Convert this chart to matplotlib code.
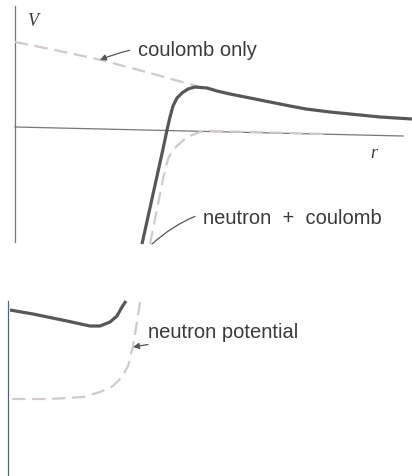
import matplotlib.pyplot as plt

# sketch coordinates: r to the right, V upwards
# upper panel: coulomb only (dashed)
coul_r = [0, 35, 82, 135, 185]
coul_V = [85, 78, 68, 54, 40]

# upper panel: neutron + coulomb (solid)
nc_r = [127, 148, 152, 155, 158, 162, 167, 173, 180, 192, 202,
        215, 225, 245, 275, 291, 315, 335, 365, 397]
nc_V = [-117, -22, -3, 10, 21, 29, 34, 38, 40, 39, 36,
        33, 31, 27, 21, 18, 15, 13, 10, 8]

# upper panel: neutron potential (dashed)
neu_r = [135, 142, 148, 153, 157, 162, 172, 185, 195, 235, 311]
neu_V = [-117, -82, -52, -32, -24, -19, -10, -5, -4, -5, -7]

# lower panel (below the break)
nc_low_r = [-5, 18, 52, 75, 85, 95, 102, 107, 111]
nc_low_V = [-183, -187, -194, -199, -199, -195, -189, -180, -174]
neu_low_r = [125, 122, 118, 113, 107, 98, 85, 68, 35, -7]
neu_low_V = [-175, -195, -219, -239, -250, -259, -265, -270, -272, -272]

SOLID = '#575757'
DASH = '#d2c9cd'
AXIS = '#777777'
TXT = '#3a3a3a'

fig = plt.figure(figsize=(4.12, 4.77), dpi=100)
ax = fig.add_axes([0, 0, 1, 1])
ax.set_xlim(-15, 397)
ax.set_ylim(-349, 128)
ax.axis('off')

# axes drawn by hand (scanned figure, slightly tilted r-axis)
ax.plot([0, 0], [121, -115], color=AXIS, lw=0.9)
ax.plot([0, 388], [0, -9], color=AXIS, lw=0.9)
ax.plot([-7, -7], [-174, -349], color='#556070', lw=0.9)

dash_kw = dict(color=DASH, lw=1.6, dashes=(6, 3))
solid_kw = dict(color=SOLID, lw=2.3, solid_capstyle='butt', solid_joinstyle='round')
ax.plot(coul_r, coul_V, **dash_kw)
ax.plot(neu_r, neu_V, **dash_kw)
ax.plot(nc_r, nc_V, **solid_kw)
ax.plot(neu_low_r, neu_low_V, **dash_kw)
ax.plot(nc_low_r, nc_low_V, **solid_kw)

ax.text(12, 106, 'V', fontsize=13, style='italic', family='Liberation Serif',
        color=TXT, va='center', ha='left')
ax.text(355, -25, 'r', fontsize=13, style='italic', family='Liberation Serif',
        color=TXT, va='center', ha='left')

ax.annotate('coulomb only', xy=(85, 67), xytext=(123, 78),
            fontsize=14.5, family='Liberation Sans', color=TXT, va='center',
            arrowprops=dict(arrowstyle='-|>', color='#555555', lw=0.9,
                            mutation_scale=9, shrinkA=4, shrinkB=0,
                            connectionstyle='arc3,rad=0.15'))
ax.annotate('neutron  +  coulomb', xy=(137, -117), xytext=(188, -90),
            fontsize=14.5, family='Liberation Sans', color=TXT, va='center',
            arrowprops=dict(arrowstyle='-', color='#555555', lw=0.9,
                            shrinkA=4, shrinkB=0,
                            connectionstyle='arc3,rad=0.3'))
ax.annotate('neutron potential', xy=(118, -220), xytext=(133, -205),
            fontsize=14.5, family='Liberation Sans', color=TXT, va='center',
            arrowprops=dict(arrowstyle='-|>', color='#555555', lw=0.9,
                            mutation_scale=9, shrinkA=1, shrinkB=0))

fig.savefig('out.png', dpi=100)
